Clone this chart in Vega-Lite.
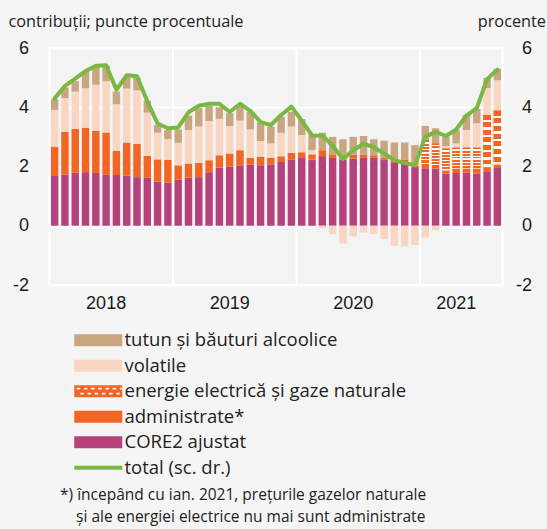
{
  "$schema": "https://vega.github.io/schema/vega-lite/v6.json",
  "width": 453,
  "height": 237,
  "autosize": "none",
  "padding": {"left": 49.5, "top": 48, "right": 44.5, "bottom": 244},
  "background": "#f5f5f5",
  "config": {
    "view": {"fill": "#f3f3f3", "stroke": "#ffffff", "strokeWidth": 2},
    "font": "Open Sans"
  },
  "title": {
    "text": ["*) începând cu ian. 2021, prețurile gazelor naturale", "\u2060\u00a0\u00a0\u00a0\u00a0și ale energiei electrice nu mai sunt administrate"],
    "orient": "bottom",
    "anchor": "start",
    "font": "Open Sans",
    "fontSize": 15.5,
    "fontWeight": "normal",
    "color": "#222222",
    "dx": 52,
    "offset": 10,
    "lineHeight": 22,
    "baseline": "top"
  },
  "datasets": {
    "series": [
      {"key": "core", "label": "CORE2 ajustat", "ord": 1},
      {"key": "adm", "label": "administrate*", "ord": 2},
      {"key": "en", "label": "energie electrică și gaze naturale", "ord": 3},
      {"key": "vol", "label": "volatile", "ord": 4},
      {"key": "tut", "label": "tutun și băuturi alcoolice", "ord": 5}
    ],
    "years": [{"m": "2019-01"}, {"m": "2020-01"}, {"m": "2021-01"}],
    "main": [
      {"m": "2018-01", "core": 1.68, "adm": 0.98, "en": 0, "vol": 1.25, "tut": 0.36, "tot": 4.30},
      {"m": "2018-02", "core": 1.73, "adm": 1.44, "en": 0, "vol": 1.14, "tut": 0.36, "tot": 4.72},
      {"m": "2018-03", "core": 1.79, "adm": 1.48, "en": 0, "vol": 1.26, "tut": 0.35, "tot": 4.97},
      {"m": "2018-04", "core": 1.81, "adm": 1.50, "en": 0, "vol": 1.33, "tut": 0.55, "tot": 5.22},
      {"m": "2018-05", "core": 1.78, "adm": 1.42, "en": 0, "vol": 1.56, "tut": 0.62, "tot": 5.40},
      {"m": "2018-06", "core": 1.72, "adm": 1.43, "en": 0, "vol": 1.73, "tut": 0.52, "tot": 5.42},
      {"m": "2018-07", "core": 1.71, "adm": 0.81, "en": 0, "vol": 1.58, "tut": 0.43, "tot": 4.59},
      {"m": "2018-08", "core": 1.69, "adm": 1.12, "en": 0, "vol": 1.82, "tut": 0.38, "tot": 5.08},
      {"m": "2018-09", "core": 1.64, "adm": 1.12, "en": 0, "vol": 1.81, "tut": 0.42, "tot": 5.05},
      {"m": "2018-10", "core": 1.62, "adm": 0.74, "en": 0, "vol": 1.46, "tut": 0.40, "tot": 4.20},
      {"m": "2018-11", "core": 1.49, "adm": 0.75, "en": 0, "vol": 0.90, "tut": 0.26, "tot": 3.45},
      {"m": "2018-12", "core": 1.46, "adm": 0.77, "en": 0, "vol": 0.70, "tut": 0.30, "tot": 3.29},
      {"m": "2019-01", "core": 1.55, "adm": 0.49, "en": 0, "vol": 0.76, "tut": 0.45, "tot": 3.32},
      {"m": "2019-02", "core": 1.62, "adm": 0.48, "en": 0, "vol": 1.13, "tut": 0.48, "tot": 3.83},
      {"m": "2019-03", "core": 1.64, "adm": 0.48, "en": 0, "vol": 1.23, "tut": 0.62, "tot": 4.05},
      {"m": "2019-04", "core": 1.81, "adm": 0.40, "en": 0, "vol": 1.33, "tut": 0.51, "tot": 4.12},
      {"m": "2019-05", "core": 1.96, "adm": 0.42, "en": 0, "vol": 1.23, "tut": 0.39, "tot": 4.12},
      {"m": "2019-06", "core": 2.00, "adm": 0.44, "en": 0, "vol": 0.93, "tut": 0.43, "tot": 3.84},
      {"m": "2019-07", "core": 2.04, "adm": 0.51, "en": 0, "vol": 1.00, "tut": 0.47, "tot": 4.12},
      {"m": "2019-08", "core": 2.06, "adm": 0.23, "en": 0, "vol": 0.96, "tut": 0.60, "tot": 3.88},
      {"m": "2019-09", "core": 2.04, "adm": 0.28, "en": 0, "vol": 0.54, "tut": 0.62, "tot": 3.50},
      {"m": "2019-10", "core": 2.07, "adm": 0.23, "en": 0, "vol": 0.48, "tut": 0.57, "tot": 3.40},
      {"m": "2019-11", "core": 2.15, "adm": 0.20, "en": 0, "vol": 0.79, "tut": 0.54, "tot": 3.74},
      {"m": "2019-12", "core": 2.24, "adm": 0.22, "en": 0, "vol": 0.89, "tut": 0.50, "tot": 4.02},
      {"m": "2020-01", "core": 2.29, "adm": 0.19, "en": 0, "vol": 0.58, "tut": 0.54, "tot": 3.55},
      {"m": "2020-02", "core": 2.23, "adm": 0.18, "en": 0, "vol": 0.14, "tut": 0.55, "tot": 3.05},
      {"m": "2020-03", "core": 2.35, "adm": 0.20, "en": 0, "vol": -0.08, "tut": 0.59, "tot": 3.04},
      {"m": "2020-04", "core": 2.29, "adm": 0.12, "en": 0, "vol": -0.28, "tut": 0.59, "tot": 2.70},
      {"m": "2020-05", "core": 2.23, "adm": 0.05, "en": 0, "vol": -0.60, "tut": 0.64, "tot": 2.25},
      {"m": "2020-06", "core": 2.27, "adm": 0.13, "en": 0, "vol": -0.36, "tut": 0.60, "tot": 2.55},
      {"m": "2020-07", "core": 2.29, "adm": 0.11, "en": 0, "vol": -0.23, "tut": 0.63, "tot": 2.77},
      {"m": "2020-08", "core": 2.29, "adm": 0.09, "en": 0, "vol": -0.28, "tut": 0.54, "tot": 2.65},
      {"m": "2020-09", "core": 2.24, "adm": 0.06, "en": 0, "vol": -0.45, "tut": 0.57, "tot": 2.44},
      {"m": "2020-10", "core": 2.12, "adm": 0.09, "en": 0, "vol": -0.68, "tut": 0.60, "tot": 2.21},
      {"m": "2020-11", "core": 2.10, "adm": 0.14, "en": 0, "vol": -0.70, "tut": 0.57, "tot": 2.12},
      {"m": "2020-12", "core": 1.98, "adm": 0.05, "en": 0, "vol": -0.65, "tut": 0.69, "tot": 2.04},
      {"m": "2021-01", "core": 1.94, "adm": 0.15, "en": 0.80, "vol": -0.40, "tut": 0.48, "tot": 3.00},
      {"m": "2021-02", "core": 1.93, "adm": 0.12, "en": 0.73, "vol": -0.15, "tut": 0.51, "tot": 3.17},
      {"m": "2021-03", "core": 1.76, "adm": 0.11, "en": 0.74, "vol": 0.08, "tut": 0.31, "tot": 3.03},
      {"m": "2021-04", "core": 1.78, "adm": 0.15, "en": 0.71, "vol": 0.14, "tut": 0.45, "tot": 3.25},
      {"m": "2021-05", "core": 1.79, "adm": 0.14, "en": 0.71, "vol": 0.59, "tut": 0.51, "tot": 3.72},
      {"m": "2021-06", "core": 1.76, "adm": 0.17, "en": 0.71, "vol": 0.82, "tut": 0.48, "tot": 3.97},
      {"m": "2021-07", "core": 1.84, "adm": 0.14, "en": 1.76, "vol": 0.91, "tut": 0.34, "tot": 4.95},
      {"m": "2021-08", "core": 1.95, "adm": 0.12, "en": 1.82, "vol": 1.02, "tut": 0.39, "tot": 5.27}
    ]
  },
  "encoding": {
    "x": {
      "field": "m",
      "type": "ordinal",
      "scale": {"paddingInner": 0.28, "paddingOuter": 0.14},
      "axis": {
        "values": ["2018-06", "2019-06", "2020-06", "2021-04"],
        "labelExpr": "substring(datum.label, 0, 4)",
        "title": null,
        "ticks": false,
        "domain": false,
        "grid": false,
        "labelAngle": 0,
        "labelFont": "Liberation Sans",
        "labelFontSize": 18,
        "labelPadding": 9,
        "labelColor": "#1a1a1a"
      }
    }
  },
  "layer": [
    {
      "data": {"name": "years"},
      "mark": {"type": "rule", "color": "#ffffff", "strokeWidth": 2},
      "encoding": {
        "x": {"field": "m", "type": "ordinal", "bandPosition": -0.2}
      }
    },
    {
      "data": {"name": "main"},
      "transform": [
        {"fold": ["core", "adm", "en", "vol", "tut"], "as": ["key", "v"]},
        {"lookup": "key", "from": {"data": {"name": "series"}, "key": "key", "fields": ["label", "ord"]}}
      ],
      "mark": {"type": "bar"},
      "encoding": {
        "y": {
          "field": "v",
          "type": "quantitative",
          "stack": "zero",
          "scale": {"domain": [-2, 6], "nice": false, "zero": false},
          "axis": {
            "values": [-2, 0, 2, 4, 6],
            "labelExpr": "toString(datum.value)",
            "title": "contribuții; puncte procentuale",
            "titleAngle": 0,
            "titleAlign": "left",
            "titleX": -41.5,
            "titleY": -22,
            "titleBaseline": "alphabetic",
            "titleFont": "Open Sans",
            "titleFontSize": 16.3,
            "titleFontWeight": "normal",
            "titleColor": "#222222",
            "grid": true,
            "gridColor": "#ffffff",
            "gridWidth": 2,
            "domain": false,
            "ticks": false,
            "labelPadding": 21,
            "labelFont": "Liberation Sans",
            "labelFontSize": 18,
            "labelColor": "#1a1a1a"
          }
        },
        "color": {
          "field": "label",
          "type": "nominal",
          "scale": {
            "domain": ["tutun și băuturi alcoolice", "volatile", "energie electrică și gaze naturale", "administrate*", "CORE2 ajustat", "total (sc. dr.)"],
            "range": ["#c9a680", "#f8d6c2", "#f26522", "#f26522", "#b5427b", "#78b843"]
          },
          "legend": {
            "orient": "none",
            "legendX": 39.5,
            "legendY": 283,
            "direction": "vertical",
            "title": null,
            "symbolType": "M-4,-1H4V1H-4Z",
            "symbolSize": 144,
            "symbolStrokeWidth": 0,
            "labelFont": "Open Sans",
            "labelFontSize": 18.5,
            "labelColor": "#222222",
            "labelOffset": 17,
            "labelLimit": 400,
            "rowPadding": 6.5,
            "padding": 0,
            "encode": {
              "symbols": {
                "update": {
                  "shape": {"signal": "datum.value === 'total (sc. dr.)' ? 'M-4,-0.33H4V0.33H-4Z' : (indexof(datum.value, 'energie') === 0 ? 'M-4,-1H4V1H-4Z M-3.6,-0.6V-0.3H-3V-0.6Z M-2.4,-0.6V-0.3H-1.8V-0.6Z M-1.2,-0.6V-0.3H-0.6V-0.6Z M0,-0.6V-0.3H0.6V-0.6Z M1.2,-0.6V-0.3H1.8V-0.6Z M2.4,-0.6V-0.3H3V-0.6Z M3.6,-0.6V-0.3H4V-0.6Z M-3,0.25V0.55H-2.4V0.25Z M-1.8,0.25V0.55H-1.2V0.25Z M-0.6,0.25V0.55H0V0.25Z M0.6,0.25V0.55H1.2V0.25Z M1.8,0.25V0.55H2.4V0.25Z M3,0.25V0.55H3.6V0.25Z' : 'M-4,-1H4V1H-4Z')"},
                  "stroke": {"value": "transparent"},
                  "opacity": {"value": 1}
                }
              }
            }
          }
        },
        "order": {"field": "ord", "type": "quantitative"}
      }
    },
    {
      "data": {"name": "main"},
      "transform": [
        {"fold": ["core", "adm", "en", "vol", "tut"], "as": ["key", "v"]},
        {"lookup": "key", "from": {"data": {"name": "series"}, "key": "key", "fields": ["label", "ord"]}},
        {"stack": "v", "groupby": ["m"], "sort": [{"field": "ord", "order": "ascending"}], "as": ["y0", "y1"], "offset": "zero"},
        {"filter": "datum.key === 'en' && datum.v > 0"}
      ],
      "mark": {
        "type": "bar",
        "color": {"gradient": "linear", "x1": 0, "y1": 0, "x2": 0, "y2": 1, "stops": [
          {"offset": 0, "color": "#f26522"}, {"offset": 0.093, "color": "#f26522"},
          {"offset": 0.093, "color": "#ffffff"}, {"offset": 0.143, "color": "#ffffff"},
          {"offset": 0.143, "color": "#f26522"}, {"offset": 0.236, "color": "#f26522"},
          {"offset": 0.236, "color": "#ffffff"}, {"offset": 0.286, "color": "#ffffff"},
          {"offset": 0.286, "color": "#f26522"}, {"offset": 0.379, "color": "#f26522"},
          {"offset": 0.379, "color": "#ffffff"}, {"offset": 0.429, "color": "#ffffff"},
          {"offset": 0.429, "color": "#f26522"}, {"offset": 0.521, "color": "#f26522"},
          {"offset": 0.521, "color": "#ffffff"}, {"offset": 0.571, "color": "#ffffff"},
          {"offset": 0.571, "color": "#f26522"}, {"offset": 0.664, "color": "#f26522"},
          {"offset": 0.664, "color": "#ffffff"}, {"offset": 0.714, "color": "#ffffff"},
          {"offset": 0.714, "color": "#f26522"}, {"offset": 0.807, "color": "#f26522"},
          {"offset": 0.807, "color": "#ffffff"}, {"offset": 0.857, "color": "#ffffff"},
          {"offset": 0.857, "color": "#f26522"}, {"offset": 0.95, "color": "#f26522"},
          {"offset": 0.95, "color": "#ffffff"}, {"offset": 1, "color": "#ffffff"}
        ]}
      },
      "encoding": {
        "y": {"field": "y0", "type": "quantitative", "scale": {"domain": [-2, 6], "nice": false, "zero": false}, "axis": null},
        "y2": {"field": "y1"}
      }
    },
    {
      "data": {"name": "main"},
      "mark": {"type": "line", "strokeWidth": 4, "strokeJoin": "round", "strokeCap": "round"},
      "encoding": {
        "y": {
          "field": "tot",
          "type": "quantitative",
          "scale": {"domain": [-2, 6], "nice": false, "zero": false},
          "axis": {
            "orient": "right",
            "values": [-2, 0, 2, 4, 6],
            "labelExpr": "toString(datum.value)",
            "grid": false,
            "domain": false,
            "ticks": false,
            "labelAlign": "right",
            "labelPadding": 29,
            "labelFont": "Liberation Sans",
            "labelFontSize": 18,
            "labelColor": "#1a1a1a",
            "title": "procente",
            "titleAngle": 0,
            "titleAlign": "right",
            "titleX": 43,
            "titleY": -22,
            "titleBaseline": "alphabetic",
            "titleFont": "Open Sans",
            "titleFontSize": 16.3,
            "titleFontWeight": "normal",
            "titleColor": "#222222"
          }
        },
        "color": {"datum": "total (sc. dr.)"}
      }
    }
  ],
  "resolve": {"scale": {"y": "independent"}}
}
